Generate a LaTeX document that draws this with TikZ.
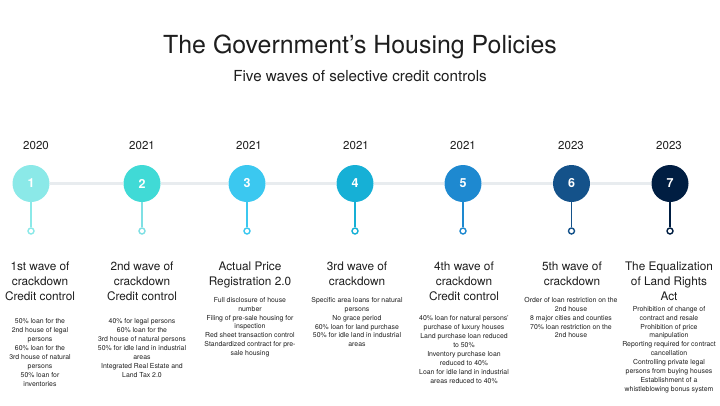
\documentclass[tikz,border=0pt]{standalone}
\usepackage{fontspec}
\setmainfont{TeX Gyre Heros}
\definecolor{txt}{HTML}{1E1E1E}
\definecolor{trackc}{HTML}{E8ECEF}
\definecolor{w1}{HTML}{8BE9E8}
\definecolor{s2}{HTML}{7FE0E4}
\definecolor{w2}{HTML}{40DAD6}
\definecolor{w3}{HTML}{3BC8F0}
\definecolor{w4}{HTML}{16B0D6}
\definecolor{w5}{HTML}{1E89D0}
\definecolor{w6}{HTML}{14528A}
\definecolor{w7}{HTML}{001E42}
\tikzset{
  wave/.style={circle, minimum size=37pt, inner sep=0pt, text=white,
    font=\fontsize{12.5}{14}\selectfont\bfseries},
  yeartxt/.style={font=\fontsize{11.5}{13}\selectfont, text=txt, inner sep=0pt},
  headtxt/.style={font=\fontsize{11.8}{15}\selectfont, align=center, anchor=north,
    inner sep=0pt, text=txt},
  bodytxt/.style={font=\fontsize{6.9}{8.9}\selectfont, align=center, anchor=north,
    inner sep=0pt, text=txt},
  endring/.style={circle, draw, line width=1.4pt, fill=white, minimum size=6pt, inner sep=0pt},
  stemline/.style={line width=1.4pt},
  trackline/.style={line width=3pt, draw=trackc}
}
\begin{document}
\begin{tikzpicture}[x=1pt,y=-1pt]
\useasboundingbox[fill=white] (0,0) rectangle (720,405);

% titles
\node[inner sep=0pt, text=txt, font=\fontsize{24.9}{28}\selectfont] (title) at (360,47) {The Government’s Housing Policies};
\node[inner sep=0pt, text=txt, font=\fontsize{15.2}{18}\selectfont] (subtitle) at (360,76) {Five waves of selective credit controls};

% years
\node[yeartxt] (y1) at (36,145.5) {2020};
\node[yeartxt] (y2) at (142,145.5) {2021};
\node[yeartxt] (y3) at (249,145.5) {2021};
\node[yeartxt] (y4) at (356,145.5) {2021};
\node[yeartxt] (y5) at (463,145.5) {2021};
\node[yeartxt] (y6) at (571,145.5) {2023};
\node[yeartxt] (y7) at (669,145.5) {2023};

% circles
\node[wave, fill=w1] (c1) at (31,183.5) {1};
\node[wave, fill=w2] (c2) at (142,183.5) {2};
\node[wave, fill=w3] (c3) at (247,183.5) {3};
\node[wave, fill=w4] (c4) at (355,183.5) {4};
\node[wave, fill=w5] (c5) at (463,183.5) {5};
\node[wave, fill=w6] (c6) at (571.5,183.5) {6};
\node[wave, fill=w7] (c7) at (670,183.5) {7};

% track
\draw[trackline] (c1) -- (c2);
\draw[trackline] (c2) -- (c3);
\draw[trackline] (c3) -- (c4);
\draw[trackline] (c4) -- (c5);
\draw[trackline] (c5) -- (c6);
\draw[trackline] (c6) -- (c7);

% end rings
\node[endring, draw=w1] (d1) at (31,231) {};
\node[endring, draw=s2] (d2) at (142,231) {};
\node[endring, draw=w3] (d3) at (247,231) {};
\node[endring, draw=w4] (d4) at (355,231) {};
\node[endring, draw=w5] (d5) at (463,231) {};
\node[endring, draw=w6] (d6) at (571.5,231) {};
\node[endring, draw=w7] (d7) at (670,231) {};

\draw[stemline, draw=w1] (c1) -- (d1);
\draw[stemline, draw=s2] (c2) -- (d2);
\draw[stemline, draw=w3] (c3) -- (d3);
\draw[stemline, draw=w4] (c4) -- (d4);
\draw[stemline, draw=w5] (c5) -- (d5);
\draw[stemline, draw=w6] (c6) -- (d6);
\draw[stemline, draw=w7] (c7) -- (d7);

% headings
\node[headtxt] (h1) at (40,261.8) {1st wave of\\crackdown\\Credit control};
\node[headtxt] (h2) at (142,261.8) {2nd wave of\\crackdown\\Credit control};
\node[headtxt] (h3) at (250,261.8) {Actual Price\\Registration 2.0};
\node[headtxt] (h4) at (357,261.8) {3rd wave of\\crackdown};
\node[headtxt] (h5) at (464,261.8) {4th wave of\\crackdown\\Credit control};
\node[headtxt] (h6) at (572,261.8) {5th wave of\\crackdown};
\node[headtxt] (h7) at (669,261.8) {The Equalization\\of Land Rights\\Act};

% bodies
\node[bodytxt] (b1) at (40,318.5) {50\% loan for the\\2nd house of legal\\persons\\60\% loan for the\\3rd house of natural\\persons\\50\% loan for\\inventories};
\node[bodytxt] (b2) at (142,318.5) {40\% for legal persons\\60\% loan for the\\3rd house of natural persons\\50\% for idle land in industrial\\areas\\Integrated Real Estate and\\Land Tax 2.0};
\node[bodytxt] (b3) at (250,297) {Full disclosure of house\\number\\Filing of pre-sale housing for\\inspection\\Red sheet transaction control\\Standardized contract for pre-\\sale housing};
\node[bodytxt] (b4) at (357,297) {Specific area loans for natural\\persons\\No grace period\\60\% loan for land purchase\\50\% for idle land in industrial\\areas};
\node[bodytxt] (b5) at (464,315.5) {40\% loan for natural persons’\\purchase of luxury houses\\Land purchase loan reduced\\to 50\%\\Inventory purchase loan\\reduced to 40\%\\Loan for idle land in industrial\\areas reduced to 40\%};
\node[bodytxt] (b6) at (571,297) {Order of loan restriction on the\\2nd house\\8 major cities and counties\\70\% loan restriction on the\\2nd house};
\node[bodytxt] (b7) at (669,306) {Prohibition of change of\\contract and resale\\Prohibition of price\\manipulation\\Reporting required for contract\\cancellation\\Controlling private legal\\persons from buying houses\\Establishment of a\\whistleblowing bonus system};
\end{tikzpicture}
\end{document}
